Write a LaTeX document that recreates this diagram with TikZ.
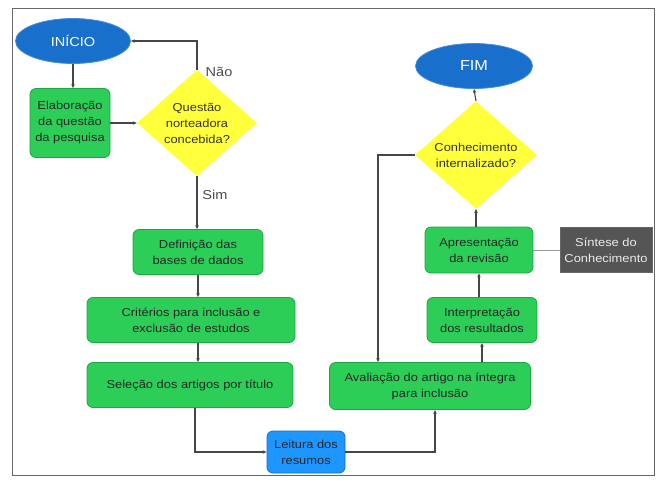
\documentclass[tikz,border=0pt]{standalone}
\usepackage{fontspec}
\setmainfont{Liberation Sans}[FakeStretch=1.12]
\usetikzlibrary{shapes.geometric,arrows.meta}
\definecolor{gfill}{RGB}{44,206,88}
\definecolor{gdraw}{RGB}{32,165,64}
\definecolor{bfill}{RGB}{24,112,204}
\definecolor{bdraw}{RGB}{70,140,215}
\definecolor{lfill}{RGB}{30,150,255}
\definecolor{ldraw}{RGB}{20,105,215}
\definecolor{yfill}{RGB}{255,255,60}
\definecolor{sfill}{RGB}{85,85,85}
\definecolor{lineC}{RGB}{70,70,70}
\begin{document}
\begin{tikzpicture}[x=1pt,y=-1pt,
  every node/.style={font=\fontsize{11.5}{16}\selectfont, align=center, inner sep=0pt},
  gbox/.style={rectangle, rounded corners=6pt, fill=gfill, draw=gdraw, line width=0.8pt, text=black!85},
  term/.style={ellipse, fill=bfill, draw=bdraw, line width=0.8pt, text=white},
  dec/.style={diamond, fill=yfill, draw=none, text=black!80},
  lbox/.style={rectangle, rounded corners=6pt, fill=lfill, draw=ldraw, line width=0.8pt, text=black!85},
  sbox/.style={rectangle, fill=sfill, draw=black!60, text=white!92!black},
  conn/.style={draw=lineC, line width=1.1pt, -{Stealth[length=4pt,width=3.5pt]}},
  lbl/.style={font=\fontsize{13}{15}\selectfont, text=black!70}]
\useasboundingbox (0,0) rectangle (663,480);
\draw[black!60, line width=1pt] (12,8) rectangle (654,475);

\node[term, minimum width=115pt, minimum height=45pt, font=\fontsize{13}{15}\selectfont] (inicio) at (73,41) {INÍCIO};
\node[gbox, minimum width=80pt, minimum height=69pt] (elab) at (70,123) {Elaboração\\da questão\\da pesquisa};
\node[dec, minimum width=120pt, minimum height=88pt] (q1) at (197,123) {Questão\\norteadora\\concebida?};
\node[gbox, minimum width=130pt, minimum height=45pt] (def) at (198,252) {Definição das\\bases de dados};
\node[gbox, minimum width=208pt, minimum height=45pt] (crit) at (191,320) {Critérios para inclusão e\\exclusão de estudos};
\node[gbox, minimum width=206pt, minimum height=45pt] (sel) at (190,385) {Seleção dos artigos por título};
\node[lbox, minimum width=78pt, minimum height=42pt] (leit) at (306,452) {Leitura dos\\resumos};
\node[gbox, minimum width=201pt, minimum height=47pt] (aval) at (430,386) {Avaliação do artigo na íntegra\\para inclusão};
\node[gbox, minimum width=110pt, minimum height=45pt] (interp) at (482,320) {Interpretação\\dos resultados};
\node[gbox, minimum width=108pt, minimum height=46pt] (apres) at (479,250) {Apresentação\\da revisão};
\node[sbox, minimum width=92pt, minimum height=45pt] (sint) at (606,250) {Síntese do\\Conhecimento};
\node[dec, minimum width=122pt, minimum height=85pt] (q2) at (476,155) {Conhecimento\\internalizado?};
\node[term, minimum width=117pt, minimum height=45pt, font=\fontsize{14.5}{16}\selectfont] (fim) at (474,66) {FIM};

\node[lbl] (nao) at (219,72) {Não};
\node[lbl] (sim) at (215,195) {Sim};

\draw[conn] (inicio.south) -- (elab.north -| inicio.south);
\draw[conn] (elab.east) -- (q1.west);
\draw[conn] (q1.north) |- (inicio.east);
\draw[conn] (q1.south) -- (def.north -| q1.south);
\draw[conn] (def.south) -- (crit.north -| def.south);
\draw[conn] (crit.south -| def.south) -- (sel.north -| def.south);
\draw[conn] (sel.south -| 195,0) |- (leit.west);
\draw[conn] (leit.east) -| (aval.south -| 435,0);
\draw[conn] (aval.north -| interp.south) -- (interp.south);
\draw[conn] (interp.north -| apres.south) -- (apres.south);
\draw[conn] (apres.north -| q2.south) -- (q2.south);
\draw[conn] (q2.north) -- (fim.south);
\draw[conn] (q2.west) -| (aval.north -| 378,0);
\draw[black!40, line width=0.8pt] (apres.east) -- (sint.west);
\end{tikzpicture}
\end{document}
